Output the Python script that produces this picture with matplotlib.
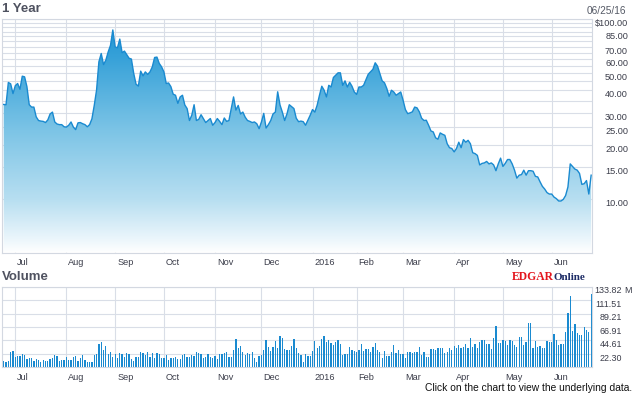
import matplotlib.pyplot as plt
import matplotlib.colors as mcolors
from matplotlib.patches import Polygon
import numpy as np
import pandas as pd

W, H = 635, 395

# trading days of the year shown
holidays = ['2015-07-03', '2015-09-07', '2015-11-26', '2015-12-25', '2016-01-01',
            '2016-01-18', '2016-02-15', '2016-03-25', '2016-05-30']
dates = pd.bdate_range('2015-06-24', '2016-06-24', freq='C', holidays=holidays)

price = [33.4, 33.3, 44.3, 43.5, 38.4, 42.5, 43.7, 40.6, 48.0, 47.6,
         42.0, 33.3, 32.3, 32.3, 28.5, 27.2, 27.0, 26.9, 26.5, 27.4,
         29.6, 30.3, 26.7, 26.0, 25.8, 25.8, 25.1, 25.0, 25.6, 26.7,
         25.0, 24.2, 26.4, 26.5, 26.1, 25.8, 25.1, 25.8, 27.8, 33.0,
         40.2, 57.7, 64.2, 55.7, 59.0, 65.5, 71.3, 86.8, 69.8, 69.1,
         77.2, 64.9, 66.2, 63.3, 60.4, 59.8, 49.7, 43.3, 42.3, 51.2,
         48.2, 50.7, 49.1, 50.7, 54.1, 61.0, 61.3, 56.5, 54.1, 50.7,
         43.7, 44.0, 42.0, 38.1, 37.6, 33.9, 36.8, 37.6, 33.2, 31.7,
         27.2, 29.1, 33.3, 27.2, 27.6, 29.3, 27.9, 26.5, 27.2, 27.9,
         25.6, 26.5, 27.9, 26.9, 25.8, 28.1, 26.9, 27.2, 31.7, 36.8,
         31.1, 33.0, 29.6, 30.3, 28.4, 27.2, 26.9, 26.5, 26.7, 26.1,
         24.5, 26.7, 29.8, 24.7, 25.8, 27.2, 29.6, 30.3, 39.3, 33.2,
         30.3, 27.2, 29.6, 33.3, 32.5, 31.7, 28.0, 26.8, 27.0, 26.8, 25.6,
         27.3, 29.1, 31.3, 30.3, 33.1, 37.6, 42.2, 40.1, 36.8, 42.7,
         41.8, 47.2, 48.6, 50.1, 50.1, 42.7, 45.2, 41.8, 44.4, 42.2,
         39.2, 38.0, 41.8, 41.8, 42.7, 45.8, 49.2, 50.8, 52.4, 57.0,
         54.6, 49.7, 45.2, 44.1, 41.0, 37.1, 40.1, 39.2, 37.6, 38.4,
         39.2, 35.3, 31.3, 29.7, 30.0, 30.4, 32.3, 32.0, 30.4, 28.0,
         27.2, 27.3, 25.6, 23.8, 23.5, 21.8, 21.4, 23.2, 22.8, 22.5,
         20.2, 19.2, 19.0, 18.2, 19.0, 20.6, 19.2, 21.3, 20.6, 21.1,
         20.2, 18.0, 17.8, 17.4, 15.4, 15.7, 15.8, 16.1, 15.6, 15.8,
         15.4, 14.3, 15.6, 16.8, 15.1, 15.7, 16.5, 16.5, 15.6, 14.4,
         13.0, 13.5, 13.6, 14.4, 13.5, 14.3, 14.3, 14.2, 13.3, 13.2,
         12.4, 11.7, 11.3, 10.8, 10.6, 10.6, 10.2, 10.0, 9.7, 9.7,
         9.9, 10.4, 11.6, 15.6, 15.1, 14.6, 14.4, 13.8, 12.0, 12.1,
         12.6, 10.6, 13.5]

# volume in millions
volume = [10.5, 9.4, 10.5, 24.9, 27.1, 17.7, 19.4, 19.4, 21.6, 20.5,
          13.8, 15.0, 15.0, 11.1, 13.8, 12.2, 9.4, 12.2, 10.5, 10.5,
          13.8, 15.0, 20.5, 19.4, 10.5, 12.2, 12.2, 17.2, 12.2, 12.2,
          17.7, 19.4, 10.5, 15.0, 20.5, 12.2, 9.4, 9.4, 9.4, 20.5,
          22.7, 38.8, 42.1, 28.8, 35.4, 22.1, 26.0, 17.7, 21.6, 16.1,
          23.3, 21.6, 17.2, 23.3, 22.1, 13.3, 10.5, 17.2, 17.2, 24.9,
          23.3, 20.5, 24.9, 17.2, 23.3, 15.0, 23.3, 22.7, 16.1, 15.0,
          20.5, 12.2, 16.1, 16.1, 17.2, 13.8, 13.8, 20.5, 21.6, 17.7,
          17.7, 20.5, 19.4, 24.9, 23.3, 21.6, 15.0, 17.7, 22.7, 17.7,
          16.1, 19.4, 13.8, 21.6, 21.6, 23.3, 24.9, 17.2, 17.2, 28.8,
          47.1, 32.7, 36.0, 24.9, 20.5, 23.3, 21.6, 26.0, 16.1, 8.3,
          19.4, 20.5, 28.8, 45.4, 34.3, 27.1, 34.3, 43.7, 31.6, 52.0,
          49.3, 30.5, 28.8, 28.8, 36.0, 47.1, 31.6, 23.3, 20.5, 9.4, 22.7,
          19.4, 19.4, 27.1, 43.7, 32.7, 35.4, 47.1,
          52.6, 41.5, 45.4, 39.9, 37.1, 41.5, 45.4, 38.2, 20.5, 21.6,
          22.1, 34.3, 28.8, 27.1, 26.0, 28.8, 38.2, 27.1, 30.5, 30.5,
          24.9, 34.3, 41.0, 28.8, 26.0, 16.1, 27.1, 19.4, 19.4, 24.9,
          37.1, 23.3, 28.2, 21.6, 21.6, 15.0, 24.9, 24.9, 23.3, 24.9,
          26.0, 34.3, 20.5, 24.9, 17.7, 17.7, 30.5, 30.5, 28.2, 31.6,
          31.6, 32.7, 23.3, 26.0, 31.6, 28.8, 36.0, 31.6, 37.1, 32.7,
          33.8, 38.2, 31.6, 49.3, 34.3, 38.2, 31.6, 42.6, 44.8, 44.8,
          38.2, 38.8, 30.5, 48.2, 68.7, 40.4, 40.4, 46.0, 43.7, 37.1,
          45.4, 43.7, 37.1, 34.3, 50.9, 50.9, 37.1, 41.5, 73.1, 73.1,
          32.7, 44.3, 33.8, 35.4, 32.7, 32.7, 43.7, 42.6, 42.6, 54.8,
          44.8, 37.1, 38.2, 38.2, 59.2, 89.7, 119.0, 60.4, 71.4, 56.5,
          53.7, 53.7, 67.6, 62.0, 59.2, 121.3]

month_names = ['Jul', 'Aug', 'Sep', 'Oct', 'Nov', 'Dec', '2016',
               'Feb', 'Mar', 'Apr', 'May', 'Jun']
price_grid = [10, 15, 20, 25, 30, 35, 40, 45, 50, 55, 60, 65, 70, 75, 80, 85, 90, 95, 100]
price_labels = [10, 15, 20, 25, 30, 40, 50, 60, 70, 85, 100]
vol_ticks = [22.30, 44.61, 66.91, 89.21, 111.51, 133.82]

x = np.arange(len(dates))
month_pos = [i for i in range(1, len(dates)) if dates[i].month != dates[i - 1].month]

plt.rcParams['font.family'] = ['Liberation Sans', 'DejaVu Sans']
GRID = '#d9dee7'
BLUE = '#1a8ad0'
TXT = '#3b3d4a'

fig = plt.figure(figsize=(W / 100, H / 100), dpi=100)


def box(l, t, r, b):
    return [l / W, 1 - b / H, (r - l) / W, (b - t) / H]


ax = fig.add_axes(box(2, 18.9, 592.3, 252.7))
axv = fig.add_axes(box(2, 286.7, 592.3, 367.3))

# price panel
ax.set_yscale('log')
ax.set_autoscale_on(False)
ax.set_xlim(-0.73, 253.5)
ax.set_ylim(5, 100)
for v in price_grid:
    ax.axhline(v, color=GRID, lw=0.8, zorder=1)
for p in month_pos:
    ax.axvline(p, color=GRID, lw=0.8, zorder=1)

cmap = mcolors.LinearSegmentedColormap.from_list(
    'fade', [(0, '#ffffff'), (0.05, '#eef7fc'), (0.225, '#b8dff1'),
             (0.525, '#7cc4e6'), (0.85, '#34a0d8'), (1, '#1f93d1')])
grad = np.linspace(0, 1, 256).reshape(-1, 1)
im = ax.imshow(grad, extent=(0, 1, 0, 1), origin='lower', transform=ax.transAxes,
               aspect='auto', cmap=cmap, zorder=2, interpolation='bilinear')
verts = list(zip(x, price)) + [(x[-1], 5), (x[0], 5)]
poly = Polygon(verts, closed=True, facecolor='none', edgecolor='none')
ax.add_patch(poly)
im.set_clip_path(poly)
ax.plot(x, price, color=BLUE, lw=1.0, zorder=3)
ax.set_xlim(-0.73, 253.5)
ax.set_ylim(5, 100)

# volume panel
axv.set_xlim(-0.73, 253.5)
axv.set_ylim(0, 133.82)
for v in vol_ticks:
    axv.axhline(v, color=GRID, lw=0.8, zorder=1)
for p in month_pos:
    axv.axvline(p, color=GRID, lw=0.8, zorder=1)
axv.bar(x, volume, width=0.55, color=BLUE, zorder=2)

for a in (ax, axv):
    a.tick_params(which='both', left=False, bottom=False,
                  labelleft=False, labelbottom=False)
    for s in a.spines.values():
        s.set_color('#d3d8e1')
        s.set_linewidth(0.8)
    for p, name in zip(month_pos, month_names):
        a.annotate(name, xy=(p, 0), xycoords=('data', 'axes fraction'),
                   xytext=(1.5, -7.3), textcoords='offset points',
                   ha='left', va='center', fontsize=6.6, color=TXT,
                   annotation_clip=False)

for v in price_labels:
    s = '$%.2f' % v if v == 100 else '%.2f' % v
    ax.annotate(s, xy=(628 / W, v), xycoords=(fig.transFigure, ax.transData),
                xytext=(0, -3.3), textcoords='offset points', ha='right',
                va='center', fontsize=6.6, color=TXT, annotation_clip=False)

for v in vol_ticks:
    axv.annotate('%.2f' % v, xy=(622 / W, v), xycoords=(fig.transFigure, axv.transData),
                 xytext=(0, -3.0), textcoords='offset points', ha='right',
                 va='center', fontsize=6.4, color=TXT, annotation_clip=False)
axv.annotate('M', xy=(624.5 / W, vol_ticks[-1]), xycoords=(fig.transFigure, axv.transData),
             xytext=(0, -3.0), textcoords='offset points', ha='left',
             va='center', fontsize=6.4, color=TXT, annotation_clip=False)


def ftext(px, py, s, **kw):
    fig.text(px / W, 1 - py / H, s, **kw)


ftext(2, 9.5, '1 Year', fontsize=9.5, fontweight='bold', color='#4f5260', va='center')
ftext(2, 277.3, 'Volume', fontsize=9.5, fontweight='bold', color='#4f5260', va='center')
ftext(626, 11.5, '06/25/16', fontsize=7.3, color='#555a66', ha='right', va='center')
ftext(511.7, 280, 'EDGAR', fontsize=8.4, fontweight='bold', color='#e3151d',
      family='Liberation Serif', va='baseline')
ftext(553.5, 280, 'Online', fontsize=8.0, fontweight='bold', color='#1d2c66',
      family='Liberation Serif', va='baseline')
ftext(632, 388, 'Click on the chart to view the underlying data.', fontsize=7.4,
      color='#111111', ha='right', va='center')

fig.savefig('out.png', dpi=100)
